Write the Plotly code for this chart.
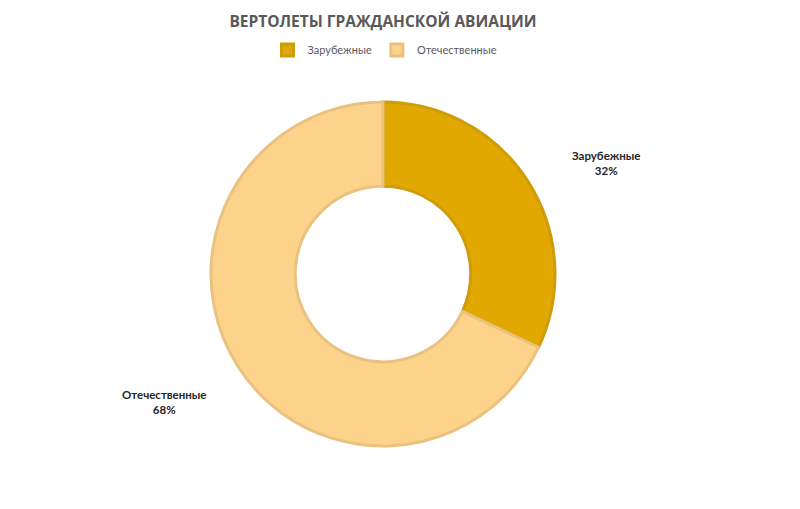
import math
import plotly.graph_objects as go

title_text = "ВЕРТОЛЕТЫ ГРАЖДАНСКОЙ АВИАЦИИ"
categories = ["Зарубежные", "Отечественные"]
values = [32, 68]
fill_colors = ["#E0A800", "#FDD28A"]
line_colors = ["#CF9C0A", "#EAC27F"]

W, H = 800, 509
OX, OY = 8, 8          # page body offset in the screenshot
cx, cy, R = 383 - OX, 274 - OY, 172  # pixel center / radius of the ring

fig = go.Figure(go.Pie(
    labels=categories,
    values=values,
    hole=0.51,
    sort=False,
    direction="clockwise",
    rotation=0,
    textinfo="none",
    hoverinfo="label+percent",
    marker=dict(colors=fill_colors, line=dict(color=line_colors, width=3)),
    domain=dict(x=[(cx - R) / W, (cx + R) / W],
                y=[(H - cy - R) / H, (H - cy + R) / H]),
))

# data labels placed around the ring from each slice's mid angle
total = sum(values)
cum = 0
kx, ky = 1.52, 1.30
lab_dx, lab_dy = 2, 8.5
for cat, v in zip(categories, values):
    mid = (cum + v / 2) / total * 2 * math.pi
    cum += v
    px = cx + R * kx * math.sin(mid) + lab_dx
    py = cy - R * ky * math.cos(mid) + lab_dy
    pct = round(v / total * 100)
    fig.add_annotation(
        x=px / W, y=1 - py / H, xref="paper", yref="paper",
        xanchor="center", yanchor="middle",
        text=f"<b>{cat}</b><br><b>{pct}%</b>",
        showarrow=False, align="center",
        font=dict(family="Lato, Open Sans, sans-serif", size=11.5, color="#262626"),
    )

fig.update_layout(
    width=W, height=H,
    margin=dict(l=0, r=0, t=0, b=0),
    paper_bgcolor="white", plot_bgcolor="white",
    title=dict(text=f"<b>{title_text}</b>", x=(383 - OX) / W, xanchor="center",
               y=1 - (22 - OY) / H, yanchor="middle",
               font=dict(family="Open Sans, sans-serif", size=15.5, color="#595959")),
    legend=dict(orientation="h", x=(385 - OX) / W, xanchor="center",
                y=1 - (50 - OY) / H, yanchor="middle",
                font=dict(family="Lato, Open Sans, sans-serif", size=11, color="#595959"),
                itemwidth=30, traceorder="normal"),
    showlegend=True,
)

fig.write_html("out.html")
